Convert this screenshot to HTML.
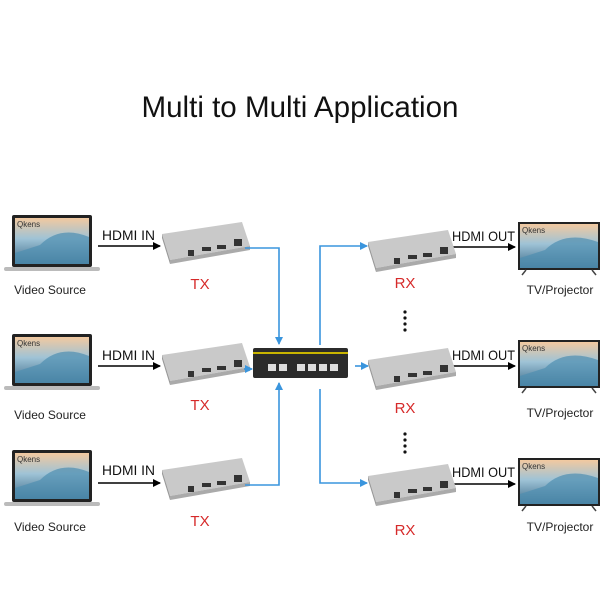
<!DOCTYPE html>
<html><head><style>body{margin:0;background:#fff}svg{display:block}text{font-family:"Liberation Sans",sans-serif}</style></head><body>
<svg width="600" height="600" viewBox="0 0 600 600">
<defs>
<marker id="ab" markerWidth="8" markerHeight="8" refX="7" refY="4" orient="auto" markerUnits="userSpaceOnUse"><path d="M0,0L8,4L0,8z" fill="#000"/></marker>
<marker id="bb" markerWidth="8" markerHeight="8" refX="7" refY="4" orient="auto" markerUnits="userSpaceOnUse"><path d="M0,0L8,4L0,8z" fill="#3a95dd"/></marker>
<linearGradient id="scr" x1="0" y1="0" x2="0" y2="1"><stop offset="0" stop-color="#f2c9a0"/><stop offset="0.45" stop-color="#9fc3d6"/><stop offset="1" stop-color="#3e6d8c"/></linearGradient>
<g id="lap"><rect x="12" y="0" width="80" height="52" rx="2" fill="#222"/><rect x="15" y="3" width="74" height="46" fill="url(#scr)"/><path d="M40,30 Q60,10 89,22 L89,49 L15,49 L15,38 Z" fill="#4f8fb0" opacity="0.7"/><text x="17" y="12" font-size="8" fill="#333">Qkens</text><rect x="4" y="52" width="96" height="4" rx="2" fill="#bbb"/></g>
<g id="tv"><rect x="518" y="0" width="82" height="48" fill="#222"/><rect x="520" y="2" width="78" height="44" fill="url(#scr)"/><path d="M545,28 Q565,8 598,20 L598,46 L520,46 L520,36 Z" fill="#4f8fb0" opacity="0.7"/><text x="522" y="11" font-size="8" fill="#333">Qkens</text><path d="M526,48 l-4,5 M592,48 l4,5" stroke="#444" stroke-width="1.5"/></g>
<g id="box"><path d="M0,12 L80,0 L88,24 L8,38 Z" fill="#c9c9c9"/><path d="M0,12 L8,38 L8,42 L0,16Z" fill="#999"/><path d="M8,38 L88,24 L88,28 L8,42Z" fill="#aaa"/><rect x="26" y="28" width="6" height="6" fill="#333"/><rect x="40" y="25" width="9" height="4" fill="#333"/><rect x="55" y="23" width="9" height="4" fill="#333"/><rect x="72" y="17" width="8" height="7" fill="#333"/></g>
</defs>
<text x="300" y="117" font-size="29.5" text-anchor="middle" fill="#111" textLength="317" lengthAdjust="spacingAndGlyphs">Multi to Multi Application</text>
<use href="#lap" y="215"/><use href="#lap" y="334"/><use href="#lap" y="450"/>
<g font-size="12" fill="#222" text-anchor="middle"><text x="50" y="294">Video Source</text><text x="50" y="419">Video Source</text><text x="50" y="531">Video Source</text>
<text x="560" y="294">TV/Projector</text><text x="560" y="417">TV/Projector</text><text x="560" y="531">TV/Projector</text></g>
<g font-size="14" fill="#111"><text x="102" y="240" textLength="53" lengthAdjust="spacingAndGlyphs">HDMI IN</text><text x="102" y="360" textLength="53" lengthAdjust="spacingAndGlyphs">HDMI IN</text><text x="102" y="475" textLength="53" lengthAdjust="spacingAndGlyphs">HDMI IN</text>
<text x="452" y="241" textLength="63" lengthAdjust="spacingAndGlyphs">HDMI OUT</text><text x="452" y="360" textLength="63" lengthAdjust="spacingAndGlyphs">HDMI OUT</text><text x="452" y="477" textLength="63" lengthAdjust="spacingAndGlyphs">HDMI OUT</text></g>
<g stroke="#000" stroke-width="1.5" marker-end="url(#ab)"><line x1="98" y1="246" x2="160" y2="246"/><line x1="98" y1="366" x2="160" y2="366"/><line x1="98" y1="483" x2="160" y2="483"/>
<line x1="452" y1="247" x2="515" y2="247"/><line x1="452" y1="366" x2="515" y2="366"/><line x1="452" y1="484" x2="515" y2="484"/></g>
<use href="#box" x="162" y="222"/><use href="#box" x="162" y="343"/><use href="#box" x="162" y="458"/>
<use href="#box" x="368" y="230"/><use href="#box" x="368" y="348"/><use href="#box" x="368" y="464"/>
<g font-size="15" fill="#d62a2a" text-anchor="middle"><text x="200" y="289">TX</text><text x="200" y="410">TX</text><text x="200" y="526">TX</text><text x="405" y="288">RX</text><text x="405" y="413">RX</text><text x="405" y="535">RX</text></g>
<g fill="#111"><circle cx="405" cy="312" r="1.6"/><circle cx="405" cy="318" r="1.6"/><circle cx="405" cy="324" r="1.6"/><circle cx="405" cy="330" r="1.6"/><circle cx="405" cy="434" r="1.6"/><circle cx="405" cy="440" r="1.6"/><circle cx="405" cy="446" r="1.6"/><circle cx="405" cy="452" r="1.6"/></g>
<g stroke="#3a95dd" stroke-width="1.6" fill="none" marker-end="url(#bb)">
<polyline points="245,248 279,248 279,344"/><line x1="244" y1="369" x2="252" y2="369"/><polyline points="245,485 279,485 279,383"/>
<polyline points="320,345 320,246 367,246"/><line x1="355" y1="366" x2="368" y2="366"/><polyline points="320,389 320,483 367,483"/></g>
<rect x="253" y="348" width="95" height="30" rx="2" fill="#2b2b2b"/><rect x="253" y="352" width="95" height="2" fill="#c8b400"/>
<g fill="#ddd"><rect x="268" y="364" width="8" height="7"/><rect x="279" y="364" width="8" height="7"/><rect x="297" y="364" width="8" height="7"/><rect x="308" y="364" width="8" height="7"/><rect x="319" y="364" width="8" height="7"/><rect x="330" y="364" width="8" height="7"/></g>
<use href="#tv" y="222"/><use href="#tv" y="340"/><use href="#tv" y="458"/>
</svg>
</body></html>
